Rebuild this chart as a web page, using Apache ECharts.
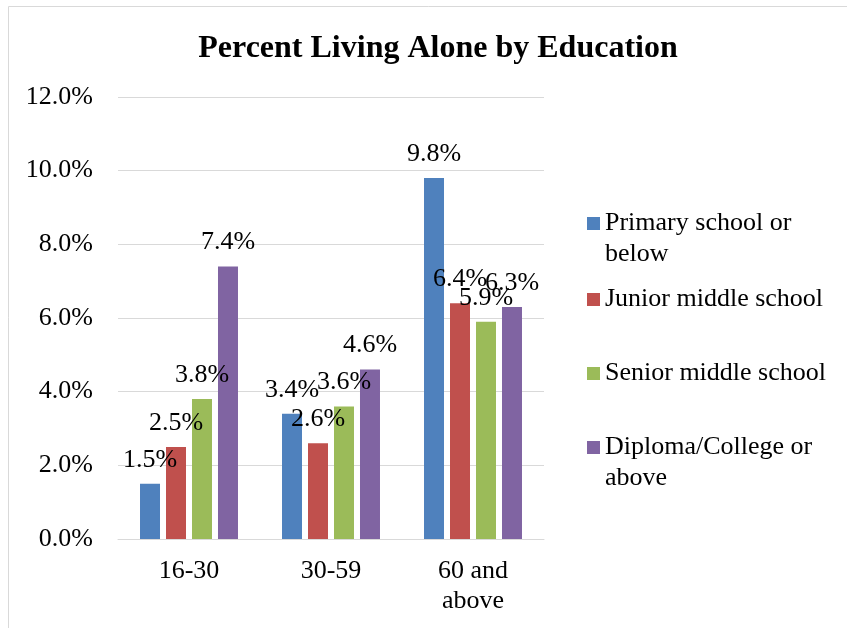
<!DOCTYPE html>
<html>
<head>
<meta charset="utf-8">
<script src="https://cdn.jsdelivr.net/npm/echarts@6/dist/echarts.min.js"></script>
<style>
  html, body { margin: 0; padding: 0; background: #fff; }
  #chart { width: 847px; height: 628px; }
</style>
</head>
<body>
<div id="chart"></div>
<script>
// Age groups on the x axis
const categories = ['16-30', '30-59', '60 and\nabove'];

// Share of people living alone (%) by education level
const seriesNames = [
  'Primary school or\nbelow',
  'Junior middle school',
  'Senior middle school',
  'Diploma/College or\nabove'
];
const primary = [1.5, 3.4, 9.8];
const junior = [2.5, 2.6, 6.4];
const senior = [3.8, 3.6, 5.9];
const diploma = [7.4, 4.6, 6.3];

// Y axis ticks (%)
const yTicks = [0, 2, 4, 6, 8, 10, 12];

const colors = ['#4F81BD', '#C0504D', '#9BBB59', '#8064A2'];
const serif = '"Liberation Serif", "Times New Roman", serif';
const FS = 26;

const chart = echarts.init(document.getElementById('chart'), null, { renderer: 'canvas' });

const values = [primary, junior, senior, diploma];
const series = values.map((vals, i) => ({
  name: seriesNames[i],
  type: 'bar',
  data: vals,
  barGap: '30%',
  barCategoryGap: '31%',
  itemStyle: { color: colors[i] },
  label: {
    show: true,
    position: 'top',
    distance: 11,
    color: '#000',
    fontFamily: serif,
    fontSize: FS,
    formatter: p => p.value.toFixed(1) + '%'
  }
}));

// One legend block per series so each entry sits at its own row.
// Two-line entries get an empty leading line so the swatch, which is
// centred on the text block, lines up with the first line of text.
const legendTops = [172, 279, 353, 396];
const legends = seriesNames.map((name, i) => {
  const twoLines = name.indexOf('\n') >= 0;
  return {
    orient: 'vertical',
    left: 582,
    top: legendTops[i],
    itemWidth: 13,
    itemHeight: 13,
    itemGap: 0,
    icon: 'rect',
    data: [name],
    formatter: n => (twoLines ? '\n' + n : n),
    textStyle: {
      fontFamily: serif,
      fontSize: FS,
      color: '#000',
      lineHeight: 31
    }
  };
});

chart.setOption({
  animation: false,
  color: colors,
  graphic: [{
    type: 'rect',
    shape: { x: 8.5, y: 6.5, width: 900, height: 700 },
    style: { fill: 'none', stroke: '#D9D9D9', lineWidth: 1 },
    z: -1
  }],
  title: {
    text: 'Percent Living Alone by Education',
    left: 433,
    textAlign: 'center',
    top: 28,
    textStyle: {
      fontFamily: serif,
      fontSize: 32,
      fontWeight: 'bold',
      color: '#000'
    }
  },
  legend: legends,
  grid: { left: 118, right: 303, top: 97, bottom: 89, containLabel: false },
  xAxis: {
    type: 'category',
    data: categories,
    axisLine: { lineStyle: { color: '#D9D9D9', width: 1 } },
    axisTick: { show: false },
    axisLabel: {
      fontFamily: serif,
      fontSize: FS,
      color: '#000',
      margin: 17,
      lineHeight: 30
    }
  },
  yAxis: {
    type: 'value',
    min: yTicks[0],
    max: yTicks[yTicks.length - 1],
    interval: 2,
    axisLine: { show: false },
    axisTick: { show: false },
    splitLine: { lineStyle: { color: '#D9D9D9', width: 1 } },
    axisLabel: {
      fontFamily: serif,
      fontSize: FS,
      color: '#000',
      margin: 25,
      formatter: v => v.toFixed(1) + '%'
    }
  },
  series: series
});
</script>
</body>
</html>
